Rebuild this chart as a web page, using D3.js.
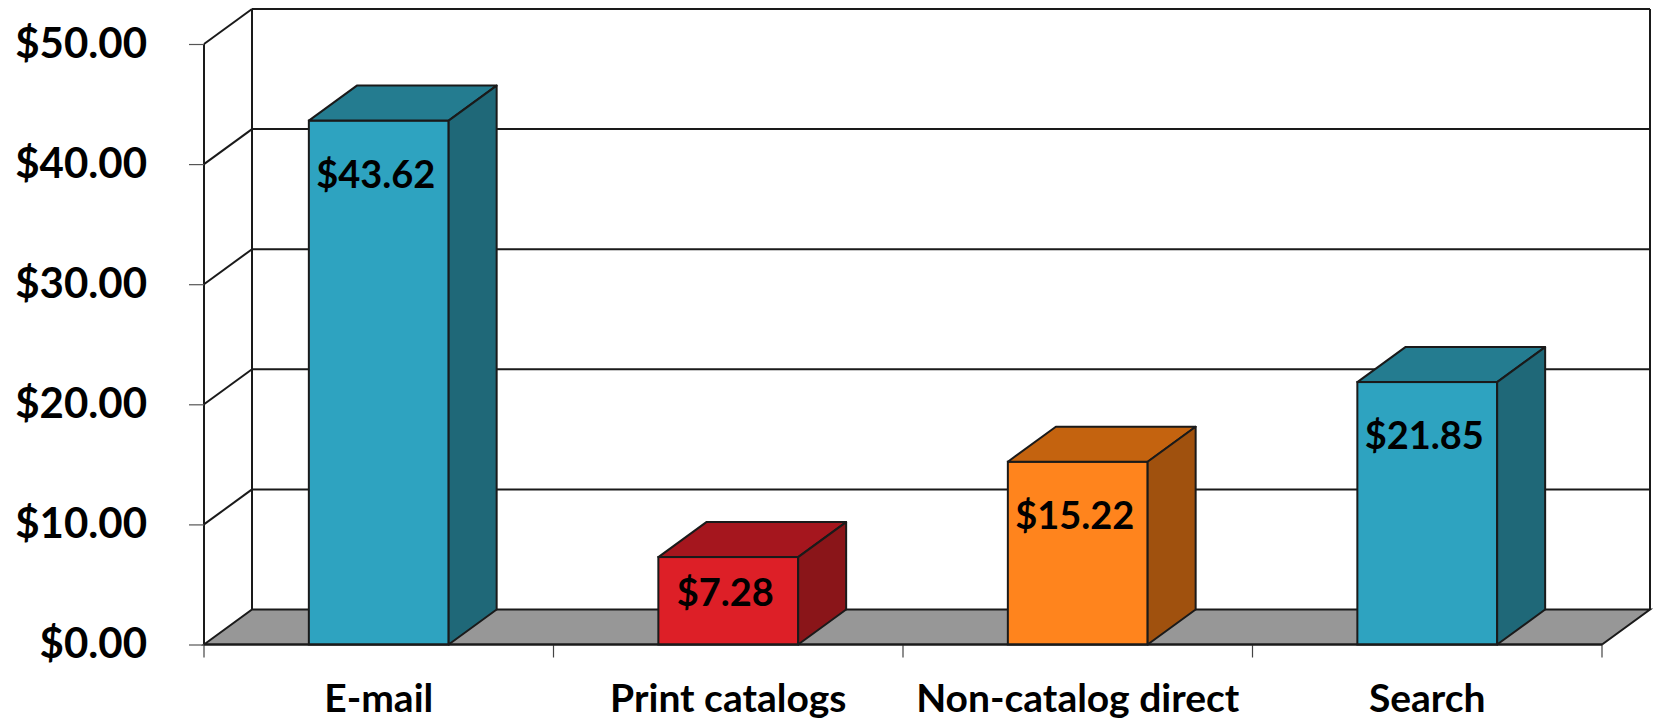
<!DOCTYPE html>
<html>
<head>
<meta charset="utf-8">
<script src="https://cdn.jsdelivr.net/npm/d3@7"></script>
<style>
  html, body { margin: 0; padding: 0; background: #ffffff; }
  svg { display: block; }
  text { font-family: Lato, "Open Sans", sans-serif; font-weight: 700; fill: #000; }
</style>
</head>
<body>
<svg id="chart" width="1655" height="721"></svg>
<script>
// ---- data ----
const categories = ["E-mail", "Print catalogs", "Non-catalog direct", "Search"];
const values = [43.62, 7.28, 15.22, 21.85];
const valueLabels = ["$43.62", "$7.28", "$15.22", "$21.85"];
const yTickValues = [0, 10, 20, 30, 40, 50];
const yTickLabels = ["$0.00", "$10.00", "$20.00", "$30.00", "$40.00", "$50.00"];
const frontColors = ["#2EA3C0", "#DD1F27", "#FF841D", "#2EA3C0"];
const topColors = ["#247C90", "#A5161E", "#C4630F", "#247C90"];
const sideColors = ["#1F6878", "#8A1519", "#A0510E", "#1F6878"];

// ---- layout ----
const svg = d3.select("#chart");
const dx = 48, dy = 35;
const y = d3.scaleLinear().domain([0, 50]).range([644.5, 44]);
const x = d3.scaleBand().domain(categories).range([204, 1602]).padding(0);
const bw = x.bandwidth() * 0.4;
const backRight = x.range()[1] + dx;
const frontLeft = x.range()[0];

const line = "#1a1a1a";

// floor
svg.append("polygon")
  .attr("points", [
    [frontLeft, y(0)], [frontLeft + dx, y(0) - dy],
    [backRight, y(0) - dy], [x.range()[1], y(0)]
  ].map(p => p.join(",")).join(" "))
  .attr("fill", "#979797").attr("stroke", line).attr("stroke-width", 2);

// back wall gridlines
const grid = svg.append("g");
yTickValues.filter(v => v > 0).forEach(v => {
  grid.append("line")
    .attr("x1", frontLeft + dx).attr("x2", backRight)
    .attr("y1", y(v) - dy).attr("y2", y(v) - dy)
    .attr("stroke", line).attr("stroke-width", 2);
});
// left wall diagonals
yTickValues.filter(v => v > 0).forEach(v => {
  grid.append("line")
    .attr("x1", frontLeft).attr("y1", y(v))
    .attr("x2", frontLeft + dx).attr("y2", y(v) - dy)
    .attr("stroke", line).attr("stroke-width", 2);
});
// wall verticals
[frontLeft + dx, backRight].forEach(xx => {
  grid.append("line")
    .attr("x1", xx).attr("x2", xx)
    .attr("y1", y(50) - dy).attr("y2", y(0) - dy)
    .attr("stroke", line).attr("stroke-width", 2);
});
grid.append("line")
  .attr("x1", frontLeft).attr("x2", frontLeft)
  .attr("y1", y(50)).attr("y2", y(0))
  .attr("stroke", line).attr("stroke-width", 2);

// y axis ticks & labels
const yAxis = d3.axisLeft(y)
  .tickValues(yTickValues)
  .tickSize(15)
  .tickPadding(42)
  .tickFormat((d, i) => yTickLabels[i]);
const gy = svg.append("g").attr("transform", `translate(${frontLeft},0)`).call(yAxis);
gy.select(".domain").remove();
gy.selectAll(".tick line").attr("stroke", "#555").attr("stroke-width", 1.2);
gy.selectAll(".tick text")
  .style("font-size", "42px")
  .style("font-family", "Lato, 'Open Sans', sans-serif")
  .style("font-weight", 700)
  .attr("fill", "#000");

// x axis: category ticks at band edges, labels at centers
const xAxis = d3.axisBottom(x).tickSize(0);
const gx = svg.append("g").attr("transform", `translate(0,${y(0)})`).call(xAxis);
gx.select(".domain").remove();
gx.selectAll(".tick text")
  .attr("y", 67)
  .attr("dy", 0)
  .style("font-size", "39px")
  .style("font-family", "Lato, 'Open Sans', sans-serif")
  .style("font-weight", 700)
  .attr("fill", "#000");
const edges = categories.map(c => x(c)).concat([x.range()[1]]);
svg.append("g").selectAll("line").data(edges).join("line")
  .attr("x1", d => d).attr("x2", d => d)
  .attr("y1", y(0)).attr("y2", y(0) + 13)
  .attr("stroke", "#444").attr("stroke-width", 1.2);

// bars
const bars = svg.append("g");
categories.forEach((c, i) => {
  const x0 = x(c) + (x.bandwidth() - bw) / 2;
  const x1 = x0 + bw;
  const yt = y(values[i]);
  const yb = y(0);
  const g = bars.append("g");
  g.append("rect")
    .attr("x", x0).attr("y", yt).attr("width", bw).attr("height", yb - yt)
    .attr("fill", frontColors[i]).attr("stroke", line).attr("stroke-width", 2);
  g.append("polygon")
    .attr("points", [[x0, yt], [x0 + dx, yt - dy], [x1 + dx, yt - dy], [x1, yt]].map(p => p.join(",")).join(" "))
    .attr("fill", topColors[i]).attr("stroke", line).attr("stroke-width", 2).attr("stroke-linejoin", "round");
  g.append("polygon")
    .attr("points", [[x1, yt], [x1 + dx, yt - dy], [x1 + dx, yb - dy], [x1, yb]].map(p => p.join(",")).join(" "))
    .attr("fill", sideColors[i]).attr("stroke", line).attr("stroke-width", 2).attr("stroke-linejoin", "round");
  const off = Math.min(67, (yb - yt) * 0.56);
  g.append("text")
    .attr("x", x0 + bw / 2 - 3).attr("y", yt + off)
    .attr("text-anchor", "middle")
    .style("font-size", "38px")
    .text(valueLabels[i]);
});
// front floor edge on top
svg.append("line")
  .attr("x1", frontLeft).attr("x2", x.range()[1])
  .attr("y1", y(0)).attr("y2", y(0))
  .attr("stroke", line).attr("stroke-width", 2);
</script>
</body>
</html>
